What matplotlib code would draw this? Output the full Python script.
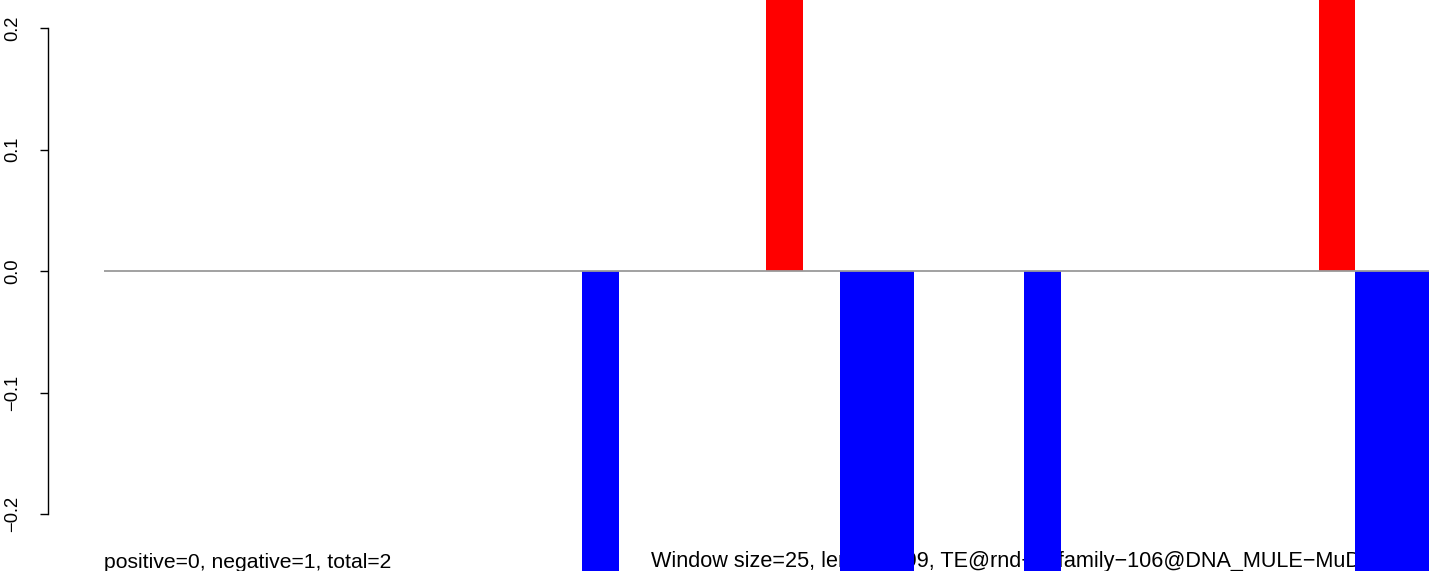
import numpy as np
import matplotlib
matplotlib.use("Agg")
import matplotlib.pyplot as plt

plt.rcParams['font.family'] = ['Liberation Sans', 'DejaVu Sans']

# 36 windows of 25 bp along the 899 bp TE
n_windows = 36
window_idx = np.arange(n_windows)
pos_vals = np.zeros(n_windows)
neg_vals = np.zeros(n_windows)
pos_vals[[18, 33]] = 1.0
neg_vals[[13, 20, 21, 25, 34, 35]] = -1.0

yticks = [-0.2, -0.1, 0.0, 0.1, 0.2]
ytick_labels = ['\u22120.2', '\u22120.1', '0.0', '0.1', '0.2']

left_note = 'positive=0, negative=1, total=2'
right_note = 'Window size=25, length=899, TE@rnd\u22121_family\u2212106@DNA_MULE\u2212MuDR:1\u2212899'

W, H = 1429, 571
PX = 72 / 100  # points per pixel
fig = plt.figure(figsize=(W / 100, H / 100), dpi=100)
ax = fig.add_axes([104 / W, 0, 1 - 104 / W, 1])

ax.set_xlim(0, n_windows)
ax.set_ylim(-300 / 1215, 271 / 1215)

ax.bar(window_idx, pos_vals, width=1, align='edge', color='#ff0000', linewidth=0, zorder=3)
ax.bar(window_idx, neg_vals, width=1, align='edge', color='#0000ff', linewidth=0, zorder=3)
ax.axhline(0, color='#9a9a9a', lw=1.3, zorder=4)

# notes under the bars
ax.text(0, -296.5 / 1215, left_note, fontsize=15.2, ha='left', va='baseline', zorder=2, clip_on=False)
ax.text((651 - 104) / 36.8, -296.5 / 1215, right_note, fontsize=15.55, ha='left', va='baseline',
        zorder=2, clip_on=False)

for s in ['top', 'right', 'bottom']:
    ax.spines[s].set_visible(False)
ax.spines['left'].set_position(('outward', 56 * PX))
ax.spines['left'].set_bounds(-0.2, 0.2)
ax.spines['left'].set_linewidth(1.0)
ax.set_xticks([])
ax.set_yticks(yticks)
ax.set_yticklabels(ytick_labels, rotation=90, va='center', fontsize=13.2)
ax.tick_params(axis='y', length=8 * PX, width=1.0, pad=19 * PX)
ax.patch.set_alpha(0)

fig.savefig('out.png', dpi=100)
